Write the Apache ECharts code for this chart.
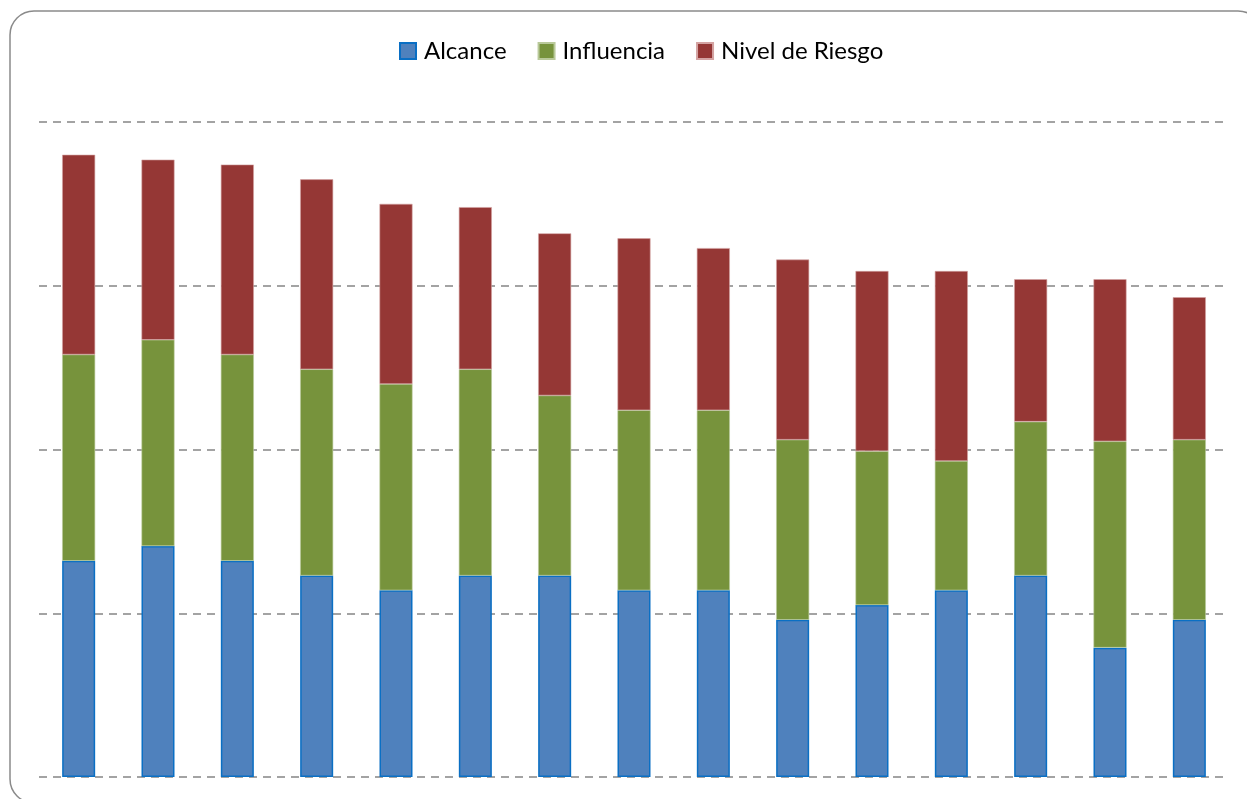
<!DOCTYPE html>
<html>
<head>
<meta charset="utf-8">
<title>Alcance / Influencia / Nivel de Riesgo</title>
<script src="https://cdn.jsdelivr.net/npm/echarts@6/dist/echarts.min.js"></script>
<style>
  html, body { margin: 0; padding: 0; background: #fff; }
  #chart { width: 1247px; height: 799px; }
</style>
</head>
<body>
<div id="chart"></div>
<script>
// data (grid step = 1)
var categories = ['1','2','3','4','5','6','7','8','9','10','11','12','13','14','15'];
var alcance    = [1.32, 1.41, 1.32, 1.23, 1.14, 1.23, 1.23, 1.14, 1.14, 0.96, 1.05, 1.14, 1.23, 0.79, 0.96];
var influencia = [1.26, 1.26, 1.26, 1.26, 1.26, 1.26, 1.10, 1.10, 1.10, 1.10, 0.94, 0.79, 0.94, 1.26, 1.10];
var riesgo     = [1.22, 1.10, 1.16, 1.16, 1.10, 0.99, 0.99, 1.05, 0.99, 1.10, 1.10, 1.16, 0.87, 0.99, 0.87];

var chart = echarts.init(document.getElementById('chart'));

chart.setOption({
    animation: false,
    textStyle: { fontFamily: 'Lato, "Open Sans", sans-serif' },
    graphic: [{
        type: 'rect',
        shape: { x: 10, y: 11, width: 1252, height: 792, r: 24 },
        style: { fill: 'none', stroke: '#8a8a8a', lineWidth: 1.5 },
        silent: true
    }],
    legend: {
        top: 34,
        left: 394,
        itemWidth: 16,
        itemHeight: 16,
        itemGap: 31,
        icon: 'rect',
        textStyle: { fontSize: 24, color: '#000', fontFamily: 'Lato, sans-serif', padding: [0, 0, 0, 3] },
        data: ['Alcance', 'Influencia', 'Nivel de Riesgo']
    },
    grid: { left: 39, right: 18, top: 122, bottom: 22 },
    xAxis: {
        type: 'category',
        data: categories,
        axisLine: { show: false },
        axisTick: { show: false },
        axisLabel: { show: false }
    },
    yAxis: {
        type: 'value',
        min: 0,
        max: 4,
        interval: 1,
        axisLabel: { show: false },
        axisLine: { show: false },
        axisTick: { show: false },
        splitLine: { lineStyle: { color: '#858585', width: 1.6, type: [8, 6] } }
    },
    series: [
        {
            name: 'Alcance', type: 'bar', stack: 'total', barWidth: 33,
            data: alcance,
            itemStyle: { color: '#4F81BD', borderColor: '#0A6FC4', borderWidth: 1.5 }
        },
        {
            name: 'Influencia', type: 'bar', stack: 'total', barWidth: 33,
            data: influencia,
            itemStyle: { color: '#77933C', borderColor: '#b9c99a', borderWidth: 0.6 }
        },
        {
            name: 'Nivel de Riesgo', type: 'bar', stack: 'total', barWidth: 33,
            data: riesgo,
            itemStyle: { color: '#953735', borderColor: '#d4a3a2', borderWidth: 0.6 }
        }
    ]
});
</script>
</body>
</html>
